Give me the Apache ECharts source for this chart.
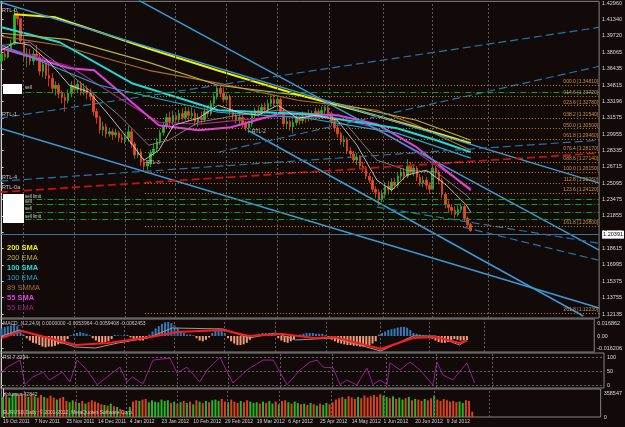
<!DOCTYPE html>
<html>
<head>
<meta charset="utf-8">
<script src="https://cdn.jsdelivr.net/npm/echarts@6/dist/echarts.min.js"></script>
<style>
  html, body { margin: 0; padding: 0; background: #120909; }
  #chart { width: 625px; height: 427px; }
</style>
</head>
<body>
<div id="chart"></div>
<script>
// daily bars, [open, close, low, high]
const candles = [
  [1.3720,1.3790,1.3690,1.3815],[1.3790,1.3760,1.3725,1.3850],[1.3760,1.3840,1.3745,1.3870],[1.3840,1.3900,1.3820,1.3935],
  [1.3900,1.4180,1.3880,1.4247],[1.4180,1.4140,1.4080,1.4215],[1.4140,1.3920,1.3900,1.4150],[1.3920,1.3760,1.3720,1.3950],
  [1.3760,1.3790,1.3660,1.3850],[1.3790,1.3720,1.3680,1.3840],[1.3720,1.3790,1.3680,1.3830],[1.3790,1.3760,1.3720,1.3880],
  [1.3760,1.3620,1.3580,1.3800],[1.3620,1.3690,1.3560,1.3720],[1.3690,1.3580,1.3540,1.3720],[1.3580,1.3550,1.3470,1.3700],
  [1.3550,1.3450,1.3400,1.3600],[1.3450,1.3480,1.3380,1.3520],[1.3480,1.3400,1.3350,1.3500],[1.3400,1.3360,1.3300,1.3430],
  [1.3360,1.3330,1.3220,1.3400],[1.3330,1.3400,1.3300,1.3440],[1.3400,1.3480,1.3360,1.3520],[1.3480,1.3440,1.3400,1.3540],
  [1.3440,1.3490,1.3400,1.3530],[1.3490,1.3420,1.3380,1.3520],[1.3420,1.3450,1.3380,1.3500],[1.3450,1.3400,1.3340,1.3480],
  [1.3400,1.3370,1.3330,1.3450],[1.3370,1.3220,1.3180,1.3400],[1.3220,1.3160,1.3100,1.3250],[1.3160,1.3040,1.3000,1.3180],
  [1.3040,1.3070,1.2980,1.3120],[1.3070,1.3000,1.2960,1.3100],[1.3000,1.3020,1.2970,1.3060],[1.3020,1.2990,1.2940,1.3050],
  [1.2990,1.3010,1.2960,1.3050],[1.3010,1.2960,1.2920,1.3030],[1.2960,1.2940,1.2910,1.3000],[1.2940,1.2960,1.2900,1.3000],
  [1.2960,1.3020,1.2920,1.3080],[1.3020,1.2900,1.2860,1.3050],[1.2900,1.2790,1.2750,1.2920],[1.2790,1.2820,1.2760,1.2860],
  [1.2820,1.2720,1.2680,1.2850],[1.2720,1.2680,1.2624,1.2760],[1.2680,1.2700,1.2640,1.2730],[1.2700,1.2810,1.2670,1.2840],
  [1.2810,1.2850,1.2780,1.2900],[1.2850,1.2920,1.2820,1.2960],[1.2920,1.3010,1.2890,1.3040],[1.3010,1.3080,1.2980,1.3120],
  [1.3080,1.3160,1.3050,1.3200],[1.3160,1.3120,1.3080,1.3220],[1.3120,1.3180,1.3080,1.3230],[1.3180,1.3140,1.3090,1.3210],
  [1.3140,1.3200,1.3110,1.3240],[1.3200,1.3160,1.3130,1.3250],[1.3160,1.3220,1.3130,1.3270],[1.3220,1.3180,1.3120,1.3260],
  [1.3180,1.3200,1.3140,1.3260],[1.3200,1.3120,1.3080,1.3240],[1.3120,1.3160,1.3070,1.3200],[1.3160,1.3140,1.3090,1.3220],
  [1.3140,1.3220,1.3120,1.3260],[1.3220,1.3200,1.3160,1.3280],[1.3200,1.3300,1.3180,1.3330],[1.3300,1.3370,1.3270,1.3400],
  [1.3370,1.3450,1.3340,1.3480],[1.3450,1.3400,1.3370,1.3486],[1.3400,1.3340,1.3310,1.3460],[1.3340,1.3370,1.3300,1.3400],
  [1.3370,1.3220,1.3180,1.3390],[1.3220,1.3180,1.3140,1.3250],[1.3180,1.3130,1.3100,1.3220],[1.3130,1.3160,1.3090,1.3200],
  [1.3160,1.3100,1.3060,1.3180],[1.3100,1.3060,1.3030,1.3130],[1.3060,1.3100,1.3005,1.3130],[1.3100,1.3180,1.3070,1.3220],
  [1.3180,1.3230,1.3150,1.3260],[1.3230,1.3200,1.3170,1.3280],[1.3200,1.3260,1.3180,1.3300],[1.3260,1.3240,1.3200,1.3310],
  [1.3240,1.3300,1.3210,1.3340],[1.3300,1.3340,1.3270,1.3380],[1.3340,1.3300,1.3270,1.3385],[1.3300,1.3340,1.3260,1.3370],
  [1.3340,1.3220,1.3180,1.3360],[1.3220,1.3100,1.3070,1.3250],[1.3100,1.3120,1.3050,1.3160],[1.3120,1.3070,1.3030,1.3140],
  [1.3070,1.3110,1.3003,1.3140],[1.3110,1.3160,1.3080,1.3200],[1.3160,1.3130,1.3090,1.3200],[1.3130,1.3180,1.3100,1.3220],
  [1.3180,1.3150,1.3110,1.3210],[1.3150,1.3200,1.3120,1.3240],[1.3200,1.3170,1.3130,1.3230],[1.3170,1.3220,1.3140,1.3260],
  [1.3220,1.3180,1.3150,1.3250],[1.3180,1.3230,1.3150,1.3270],[1.3230,1.3260,1.3190,1.3283],[1.3260,1.3200,1.3160,1.3280],
  [1.3200,1.3120,1.3080,1.3220],[1.3120,1.3060,1.3020,1.3150],[1.3060,1.3000,1.2960,1.3090],[1.3000,1.2920,1.2890,1.3020],
  [1.2920,1.2940,1.2870,1.2980],[1.2940,1.2830,1.2800,1.2960],[1.2830,1.2800,1.2760,1.2870],[1.2800,1.2740,1.2710,1.2830],
  [1.2740,1.2770,1.2690,1.2810],[1.2770,1.2680,1.2650,1.2790],[1.2680,1.2660,1.2620,1.2720],[1.2660,1.2580,1.2550,1.2680],
  [1.2580,1.2540,1.2510,1.2610],[1.2540,1.2450,1.2420,1.2570],[1.2450,1.2420,1.2360,1.2480],[1.2420,1.2350,1.2288,1.2450],
  [1.2350,1.2400,1.2320,1.2440],[1.2400,1.2480,1.2360,1.2520],[1.2480,1.2450,1.2400,1.2530],[1.2450,1.2520,1.2420,1.2560],
  [1.2520,1.2490,1.2450,1.2560],[1.2490,1.2580,1.2460,1.2620],[1.2580,1.2620,1.2540,1.2660],[1.2620,1.2580,1.2540,1.2660],
  [1.2580,1.2680,1.2560,1.2748],[1.2680,1.2620,1.2590,1.2720],[1.2620,1.2660,1.2580,1.2700],[1.2660,1.2570,1.2530,1.2680],
  [1.2570,1.2510,1.2480,1.2600],[1.2510,1.2540,1.2470,1.2580],[1.2540,1.2490,1.2450,1.2570],[1.2490,1.2450,1.2405,1.2520],
  [1.2450,1.2660,1.2440,1.2692],[1.2660,1.2620,1.2570,1.2680],[1.2620,1.2540,1.2500,1.2640],[1.2540,1.2400,1.2360,1.2560],
  [1.2400,1.2300,1.2260,1.2420],[1.2300,1.2270,1.2220,1.2340],[1.2270,1.2240,1.2200,1.2300],[1.2240,1.2200,1.2160,1.2280],
  [1.2200,1.2250,1.2180,1.2290],[1.2250,1.2280,1.2220,1.2310],[1.2280,1.2160,1.2130,1.2300],[1.2160,1.2100,1.2070,1.2180],
  [1.2100,1.2039,1.2030,1.2120]
];

const volumes = [
  300000,320000,290000,340000,358000,330000,350000,
  320000,300000,340000,310000,290000,330000,300000,280000,
  320000,290000,260000,280000,300000,240000,220000,250000,
  230000,210000,240000,200000,220000,250000,230000,210000,
  190000,180000,170000,200000,160000,150000,120000,90000,70000,
  150000,230000,250000,240000,260000,270000,220000,
  250000,230000,220000,260000,240000,250000,210000,230000,200000,
  220000,240000,210000,230000,190000,250000,230000,210000,
  240000,220000,250000,260000,240000,270000,230000,220000,
  260000,230000,210000,240000,220000,250000,230000,210000,
  220000,200000,230000,210000,240000,200000,230000,190000,
  240000,250000,220000,200000,230000,210000,190000,200000,
  180000,210000,190000,170000,200000,180000,210000,190000,
  220000,260000,280000,300000,270000,310000,290000,270000,
  300000,280000,320000,290000,310000,330000,300000,340000,
  320000,300000,280000,310000,270000,290000,260000,280000,
  300000,250000,270000,260000,240000,270000,250000,280000,
  320000,260000,240000,270000,250000,230000,240000,220000,
  230000,210000,250000,240000,80000
];

const macdHist = [
  0.010,0.012,0.013,0.014,0.016,0.013,0.008,0.002,
  -0.003,-0.006,-0.009,-0.010,-0.012,-0.014,-0.015,-0.014,-0.014,-0.013,-0.011,-0.010,-0.008,-0.004,
  0.001,0.003,0.004,0.005,0.004,0.003,0.001,
  -0.003,-0.006,-0.008,-0.009,-0.008,-0.007,-0.004,
  0.0015,0.001,0.0005,0.001,0.0015,
  -0.002,-0.004,-0.005,-0.006,-0.006,-0.004,
  0.002,0.006,0.010,0.013,0.016,0.018,0.0185,0.017,0.014,0.011,0.007,
  0.004,0.002,0.002,0.001,
  -0.003,-0.006,-0.007,-0.005,-0.002,
  0.004,0.008,0.010,0.008,0.004,
  -0.003,-0.007,-0.010,-0.012,-0.012,-0.011,-0.009,-0.005,
  0.001,0.002,0.003,0.004,0.004,0.004,0.003,0.001,
  -0.003,-0.006,-0.008,-0.009,-0.007,-0.004,
  0.001,0.002,0.003,0.004,0.004,0.004,0.003,0.003,0.003,0.001,
  -0.002,-0.005,-0.007,-0.009,-0.010,-0.011,-0.012,-0.012,-0.013,-0.013,-0.014,-0.014,-0.013,-0.012,-0.010,-0.007,
  0.002,0.004,0.006,0.008,0.009,0.010,0.011,0.012,0.012,0.011,0.008,
  0.004,0.003,0.002,0.001,0.0005,
  -0.002,-0.004,-0.006,-0.008,-0.009,-0.009,-0.008,-0.006,-0.004,-0.005,-0.006,-0.006,-0.0054
];

// [bar, value] points
const macdMain = [[0,0],[5.8,0.008],[23.6,-0.0146],[29.9,-0.0159],[37,-0.0093],[46.4,-0.0027],[54.3,0.0106],
  [70.5,0.0093],[78.7,-0.0027],[87.1,0.004],[93.4,-0.0053],[105.9,-0.0027],[120.6,-0.0199],[130.9,0],
  [138.1,0],[145.6,-0.0119],[148,-0.0059]];
const macdSignal = [[0,-0.0027],[6.4,0.0066],[23.6,-0.0119],[33.9,-0.0093],[47.4,-0.0013],[55.8,0.0053],
  [70.5,0.008],[78.7,0],[89.3,0.0027],[99.6,-0.0027],[105.9,-0.0013],[120.6,-0.0172],[130.9,-0.0027],
  [138.1,-0.0013],[145.6,-0.0093],[148,-0.0062]];

const rsi = [[0,43],[1.7,64],[5.8,89],[7.3,2],[9.8,29],[13,46],[15,18],[19,46],[21.4,11],[23.6,89],[26.7,54],
  [29.9,1],[33,29],[37,64],[39.2,11],[41,29],[44.2,3],[47.4,89],[52.7,96],[54.9,43],[58,64],[62,11],[64.3,54],
  [68.3,99],[72.4,7],[76.8,54],[81.8,89],[85,89],[89.3,1],[93.4,54],[96.5,82],[98.7,89],[100.6,64],[103.7,61],
  [105.9,1],[108,18],[111.2,0],[114.3,61],[116.2,1],[118.4,18],[120.6,2],[121.5,79],[124.7,54],[127.8,82],
  [130.9,54],[135,0],[136.2,82],[138.1,36],[141.2,18],[145.6,79],[148,7]];

// moving averages, [bar, price]
const sma200 = [[4,1.4184],[17,1.4154],[31,1.4006],[46,1.3847],[68,1.3629],[93,1.3392],[112,1.3233],[131,1.3065],[148,1.2907]];
const ema200 = [[0,1.3996],[20.5,1.3936],[46.4,1.3708],[68.3,1.3481],[93.4,1.3382],[130.9,1.3134],[148,1.2936]];
const smma89 = [[0,1.3966],[18.3,1.3877],[46.4,1.3629],[68.3,1.3501],[93.4,1.3332],[118.4,1.3233],[130.9,1.3085],[148,1.2837]];
const sma100 = [[0,1.4055],[18.3,1.3907],[41.1,1.3501],[68.3,1.3233],[96.5,1.3194],[124.7,1.3055],[137.2,1.2936],[148,1.2817]];
const ema100 = [[0,1.3877],[30.8,1.3481],[68.3,1.3213],[96.5,1.3154],[124.7,1.3006],[148,1.2758]];
const sma55 = [[0,1.3847],[21.4,1.3649],[29.2,1.3629],[39.2,1.3362],[49.6,1.3085],[62.1,1.3035],[72.4,1.3065],
  [88,1.3204],[105.9,1.3184],[118.4,1.3095],[130.9,1.2867],[148,1.2441]];
const ema55 = [[0,1.3867],[21.4,1.3669],[39.2,1.3313],[49.6,1.3114],[62.1,1.3095],[88,1.3174],[105.9,1.3154],
  [118.4,1.3055],[130.9,1.2817],[148,1.2461]];
const fastMa = [[0,1.3827],[4.2,1.3907],[8.9,1.3877],[15.1,1.3708],[21.4,1.3481],[27.7,1.3411],[33.9,1.3184],
  [40.2,1.2936],[44.9,1.2738],[49.6,1.2837],[54.3,1.3085],[62.1,1.3154],[68.3,1.3283],[74.6,1.3213],[80.9,1.3184],
  [87.1,1.3283],[93.4,1.3154],[99.6,1.3184],[105.9,1.3134],[112.1,1.2887],[118.4,1.2540],[123.1,1.2441],
  [127.8,1.2590],[134,1.2639],[140.3,1.2491],[146.6,1.2293],[148,1.2223]];
const slowMa = [[0,1.3877],[8.9,1.3907],[18.3,1.3679],[27.7,1.3431],[37,1.3184],[46.4,1.2887],[52.7,1.2936],
  [62.1,1.3114],[74.6,1.3184],[87.1,1.3233],[99.6,1.3194],[109,1.3085],[118.4,1.2738],[127.8,1.2639],
  [137.2,1.2619],[146.6,1.2392],[148,1.2342]];

// trend lines, [bar, price] end points
const rtlC = [[-0.5,1.4303],[188.5,1.2511]];
const rtlB = [[43.3,1.4322],[188.5,1.1847]];
const rtlD = [[-0.5,1.3055],[188.5,1.1273]];
const rtlE = [[77.7,1.3035],[183.5,1.1194]];
const rtl1 = [[-0.5,1.3154],[188.5,1.4055]];
const rtlH = [[68.3,1.2817],[188.5,1.3669]];
const rtl4 = [[-0.5,1.2530],[188.5,1.2936]];
const rtlJ = [[118.4,1.2273],[188.2,1.1916]];
const rtlK = [[145.6,1.2075],[188.2,1.1748]];
const rtl0a = [[-0.5,1.2421],[188.5,1.2808]];

const fibLevels = ['000.0','014.6','023.6','038.2','050.0','061.8','076.4','088.6','100.0','112.8','123.6','161.8','261.8'];
const fibPrices = [1.3481,1.3372,1.3278,1.3154,1.3050,1.2946,1.2817,1.2714,1.2615,1.2506,1.2412,1.2080,1.1223];
const fibStart = 45.2;
const orderPrices = [1.3411,1.2352,1.2303,1.2223,1.2154];
const bid = 1.20391;

const priceTicks = [1.42960,1.41340,1.39720,1.38065,1.36435,1.34815,1.33196,1.31575,1.29955,1.28335,1.26715,
  1.25095,1.23475,1.21855,1.20235,1.18615,1.16995,1.15375,1.13755,1.12135];
const macdTicks = [0.016862, 0, -0.016206];
const macdTickText = ['0.016862', '0.00', '-0.016206'];
const rsiTicks = [100, 50, 0];
const volTicks = [358547, 0];
const dateLabels = ['19 Oct 2011','7 Nov 2011','25 Nov 2011','14 Dec 2011','4 Jan 2012','23 Jan 2012','10 Feb 2012',
  '29 Feb 2012','19 Mar 2012','6 Apr 2012','25 Apr 2012','14 May 2012','1 Jun 2012','20 Jun 2012','9 Jul 2012'];
const dateStep = 10;
const monthLines = [6.7,23.0,38.9,54.9,70.8,87.1,103.4,120.3,135.9,153.4];
const slots = 189;

const FONT = 'Liberation Sans';
const cats = Array.from({ length: slots }, (_, i) => i);
const chart = echarts.init(document.getElementById('chart'));

function ln(name, data, color, width, type, xi, yi, z) {
  return {
    name, type: 'line', data, xAxisIndex: xi, yAxisIndex: yi, z: z || 3,
    symbol: 'none', silent: true, animation: false,
    lineStyle: { color, width, type: type || 'solid' }
  };
}

function monthMark() {
  return {
    symbol: ['none', 'none'], silent: true, animation: false, label: { show: false },
    lineStyle: { color: '#5e5a5a', type: [2, 2], width: 1 },
    data: monthLines.map(v => ({ xAxis: v }))
  };
}

const fibMarks = fibPrices.map((p, k) => [
  { coord: [fibStart, p], label: { formatter: fibLevels[k] + ' [' + p.toFixed(5) + ']' } },
  { coord: [188.5, p] }
]);
const orderMarks = orderPrices.map(p => [{ coord: [7.5, p] }, { coord: [188.5, p] }]);

const axisText = { color: '#d8d8d8', fontSize: 5.5, fontFamily: FONT, margin: 3 };
const rightAxis = (grid, min, max, ticks, fmt) => ({
  type: 'value', gridIndex: grid, position: 'right', min, max, scale: true,
  axisLine: { show: true, lineStyle: { color: '#d0d0d0', width: 1 } },
  axisTick: { show: true, length: 2, lineStyle: { color: '#d0d0d0' }, customValues: ticks },
  axisLabel: Object.assign({ customValues: ticks, formatter: fmt }, axisText),
  splitLine: { show: false }
});

const gridBox = { show: true, borderColor: '#858585', borderWidth: 1, left: 0, width: 604 };

const legendItems = [
  ['200 SMA', '#f0f000', 'bold'], ['200 EMA', '#b8b04a', 'normal'], ['100 SMA', '#20dada', 'bold'],
  ['100 EMA', '#20a8c8', 'normal'], ['89 SMMA', '#a8702a', 'normal'], ['55 SMA', '#e040e0', 'bold'],
  ['55 EMA', '#9a2a8a', 'normal']
];

const txt = (text, x, y, fill, size, weight) => ({
  type: 'text', x, y, silent: true, z: 100,
  style: { text, fill, font: (weight || 'normal') + ' ' + size + 'px ' + FONT, verticalAlign: 'middle' }
});

const graphics = [
  { type: 'rect', shape: { x: 3, y: 84, width: 19, height: 10 }, style: { fill: '#ffffff' }, z: 100 },
  { type: 'rect', shape: { x: 3, y: 194, width: 21, height: 29 }, style: { fill: '#ffffff' }, z: 100 },
  txt('RTL-0', 2, 10, '#c8c8c8', 5.5), txt('RTL-1', 2, 114, '#c8c8c8', 5.5),
  txt('RTL-4', 2, 177, '#c8c8c8', 5.5), txt('RTL-0a', 2, 187, '#c8c8c8', 5.5),
  txt('RTL-3', 146, 163, '#c8c8c8', 5), txt('RTL-2', 252, 132, '#c8c8c8', 5),
  txt('sell', 25, 88, '#d0d0d0', 4.5), txt('sell limit', 25, 197, '#d0d0d0', 4.5),
  txt('sell', 25, 202, '#d0d0d0', 4.5), txt('sell', 25, 209, '#d0d0d0', 4.5),
  txt('sell limit', 25, 217, '#d0d0d0', 4.5),
  txt('MACD_(12,24,9) 0.0000000 -0.0053964 -0.0059408 -0.0062453', 3, 324, '#c8c8c8', 5),
  txt('RSI 7.3294', 3, 358, '#c8c8c8', 5),
  txt('Volumes 42842', 3, 395, '#c8c8c8', 5),
  txt('EURUSD,Daily  \u00a9 2001-2012, MetaQuotes Software Corp.', 3, 413, '#c8c8c8', 5)
].concat(legendItems.map((it, k) => txt(it[0], 7, 248 + k * 10, it[1], 7.5, it[2])));

const option = {
  backgroundColor: '#120909',
  animation: false,
  textStyle: { fontFamily: FONT },
  grid: [
    Object.assign({ top: 1, height: 317 }, gridBox),
    Object.assign({ top: 319, height: 33 }, gridBox),
    Object.assign({ top: 353, height: 35 }, gridBox),
    Object.assign({ top: 389, height: 28 }, gridBox)
  ],
  xAxis: [
    { type: 'category', gridIndex: 0, data: cats, show: false },
    { type: 'value', gridIndex: 0, min: -0.5, max: slots - 0.5, show: false },
    { type: 'category', gridIndex: 1, data: cats, show: false },
    { type: 'value', gridIndex: 1, min: -0.5, max: slots - 0.5, show: false },
    { type: 'value', gridIndex: 2, min: -0.5, max: slots - 0.5, show: false },
    {
      type: 'category', gridIndex: 3, data: cats,
      axisLine: { show: false }, axisTick: { show: false },
      axisLabel: {
        color: '#d0d0d0', fontSize: 5, fontFamily: FONT, margin: 2, align: 'left',
        interval: i => i % dateStep === 0 && i / dateStep < dateLabels.length,
        formatter: (v, i) => dateLabels[i / dateStep]
      }
    },
    { type: 'value', gridIndex: 3, min: -0.5, max: slots - 0.5, show: false }
  ],
  yAxis: [
    rightAxis(0, 1.11739, 1.43125, priceTicks, v => v.toFixed(5)),
    rightAxis(1, -0.0212, 0.0225, macdTicks, v => macdTickText[macdTicks.findIndex(t => Math.abs(t - v) < 1e-7)] || ''),
    rightAxis(2, -10.7, 114.3, rsiTicks, v => String(v)),
    rightAxis(3, 0, 418300, volTicks, v => String(v))
  ],
  graphic: graphics,
  series: [
    {
      type: 'candlestick', xAxisIndex: 0, yAxisIndex: 0, data: candles, barWidth: 2, z: 2,
      silent: true,
      itemStyle: { color: '#2db52d', color0: '#ec4a1e', borderColor: '#2db52d', borderColor0: '#ec4a1e', borderWidth: 0.8 },
      markLine: {
        symbol: ['none', 'none'], silent: true, animation: false,
        lineStyle: { color: '#3f7190', width: 1, type: 'solid' },
        label: {
          show: true, position: 'end', formatter: bid.toFixed(5), distance: 3,
          backgroundColor: '#ffffff', color: '#000000', fontSize: 5.5, padding: [1, 1]
        },
        data: [{ yAxis: bid }]
      }
    },
    // month separators across all panels
    Object.assign(ln('sep0', [], '#000', 0, 'solid', 1, 0, 1), { markLine: monthMark() }),
    ln('55 EMA', ema55, '#9a2a8a', 1.2, 'solid', 1, 0),
    ln('55 SMA', sma55, '#e040e0', 2, 'solid', 1, 0),
    ln('89 SMMA', smma89, '#a8702a', 1.2, 'solid', 1, 0),
    ln('100 EMA', ema100, '#20a8c8', 1.2, 'solid', 1, 0),
    ln('100 SMA', sma100, '#20dada', 2, 'solid', 1, 0),
    ln('200 EMA', ema200, '#b8b04a', 1.2, 'solid', 1, 0),
    ln('200 SMA', sma200, '#f0f000', 2, 'solid', 1, 0),
    ln('fast', fastMa, '#e6e6e6', 0.8, 'solid', 1, 0),
    ln('slow', slowMa, '#9a9494', 0.8, 'solid', 1, 0),
    Object.assign(ln('RTL-C', rtlC, '#3a9ad8', 1.5, 'solid', 1, 0, 4), {
      markLine: {
        symbol: ['none', 'none'], silent: true, animation: false,
        lineStyle: { color: '#b8801e', type: [1, 2], width: 1 },
        label: { show: true, position: 'insideEndTop', color: '#c8904a', fontSize: 5, distance: [1, 1] },
        data: fibMarks
      }
    }),
    Object.assign(ln('RTL-B', rtlB, '#3a9ad8', 1.5, 'solid', 1, 0, 4), {
      markLine: {
        symbol: ['none', 'none'], silent: true, animation: false,
        lineStyle: { color: '#12a012', type: [6, 2, 1, 2], width: 1 },
        label: { show: false },
        data: orderMarks
      }
    }),
    ln('RTL-D', rtlD, '#3a9ad8', 1.5, 'solid', 1, 0, 4),
    ln('RTL-E', rtlE, '#3a9ad8', 1.5, 'solid', 1, 0, 4),
    ln('RTL-1', rtl1, '#2a72a8', 1.2, [8, 4], 1, 0, 4),
    ln('RTL-H', rtlH, '#2a72a8', 1.2, [8, 4], 1, 0, 4),
    ln('RTL-4', rtl4, '#2a72a8', 1.2, [8, 4], 1, 0, 4),
    ln('RTL-J', rtlJ, '#2a72a8', 1.2, [8, 4], 1, 0, 4),
    ln('RTL-K', rtlK, '#2a72a8', 1.2, [8, 4], 1, 0, 4),
    ln('RTL-0a', rtl0a, '#c81010', 1.8, [8, 4], 1, 0, 4),
    // MACD
    {
      type: 'bar', xAxisIndex: 2, yAxisIndex: 1, data: macdHist, barWidth: 2, silent: true,
      itemStyle: { color: p => (p.value >= 0 ? '#3479b5' : '#f09c78') }
    },
    Object.assign(ln('MACD', macdMain, '#9a9a9a', 1, 'solid', 3, 1), { markLine: monthMark() }),
    ln('Signal', macdSignal, '#ff1a1a', 2, 'solid', 3, 1),
    // RSI
    Object.assign(ln('RSI', rsi, '#9a1a9a', 1, 'solid', 4, 2), {
      markLine: {
        symbol: ['none', 'none'], silent: true, animation: false, label: { show: false },
        lineStyle: { color: '#5e5a5a', type: [2, 2], width: 1 },
        data: monthLines.map(v => ({ xAxis: v })).concat(rsiTicks.map(v => ({ yAxis: v })))
      }
    }),
    // volume
    {
      type: 'bar', xAxisIndex: 5, yAxisIndex: 3, data: volumes, barWidth: 2, silent: true,
      itemStyle: { color: p => (candles[p.dataIndex][1] >= candles[p.dataIndex][0] ? '#26b526' : '#d8431e') }
    },
    Object.assign(ln('sep3', [], '#000', 0, 'solid', 6, 3, 1), { markLine: monthMark() })
  ]
};

chart.setOption(option);
</script>
</body>
</html>
